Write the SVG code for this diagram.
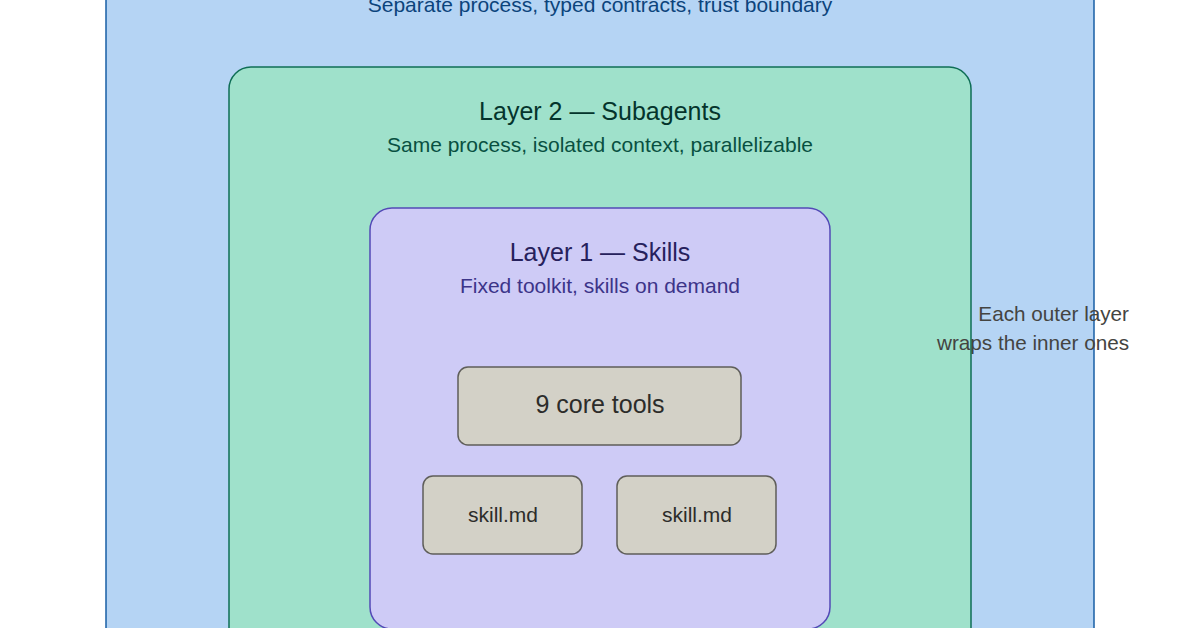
<svg xmlns="http://www.w3.org/2000/svg" width="1200" height="628" viewBox="0 0 1200 628">
<style>
text{font-family:"Liberation Sans",Arial,sans-serif;text-anchor:middle}
.l3{fill:#b5d4f4;stroke:#185fa5;stroke-width:1.5}
.l2{fill:#9fe1cb;stroke:#0f6e56;stroke-width:1.5}
.l1{fill:#cecbf6;stroke:#534ab7;stroke-width:1.5}
.box{fill:#d3d1c7;stroke:#5f5e5a;stroke-width:1.5}
.t{font-size:25px}
.s{font-size:21px}
.bx{font-size:25px;fill:#2c2c2a}
.bs{font-size:21px;fill:#2c2c2a}
.note{font-size:20.7px;fill:#444441;text-anchor:end}
</style>
<rect width="1200" height="628" fill="#ffffff"/>
<g id="layer3">
<rect class="l3" x="106" y="-120" width="988" height="860" rx="22"/>
<text class="s" x="600" y="12" fill="#0c447c">Separate process, typed contracts, trust boundary</text>
</g>
<g id="layer2">
<rect class="l2" x="229" y="67" width="742" height="640" rx="22"/>
<text class="t" x="600" y="120" fill="#04342c">Layer 2 — Subagents</text>
<text class="s" x="600" y="152" fill="#085041">Same process, isolated context, parallelizable</text>
</g>
<g id="layer1">
<rect class="l1" x="370" y="208" width="460" height="421" rx="22"/>
<text class="t" x="600" y="261" fill="#26215c">Layer 1 — Skills</text>
<text class="s" x="600" y="293" fill="#3c3489">Fixed toolkit, skills on demand</text>
</g>
<g id="core-tools">
<rect class="box" x="458" y="367" width="283" height="78" rx="10"/>
<text class="bx" x="600" y="413">9 core tools</text>
</g>
<g id="skill-1">
<rect class="box" x="423" y="476" width="159" height="78" rx="10"/>
<text class="bs" x="503" y="522">skill.md</text>
</g>
<g id="skill-2">
<rect class="box" x="617" y="476" width="159" height="78" rx="10"/>
<text class="bs" x="697" y="522">skill.md</text>
</g>
<g id="connectors"></g>
<g id="note">
<text class="note" x="1129" y="321">Each outer layer</text>
<text class="note" x="1129" y="350">wraps the inner ones</text>
</g>
</svg>
